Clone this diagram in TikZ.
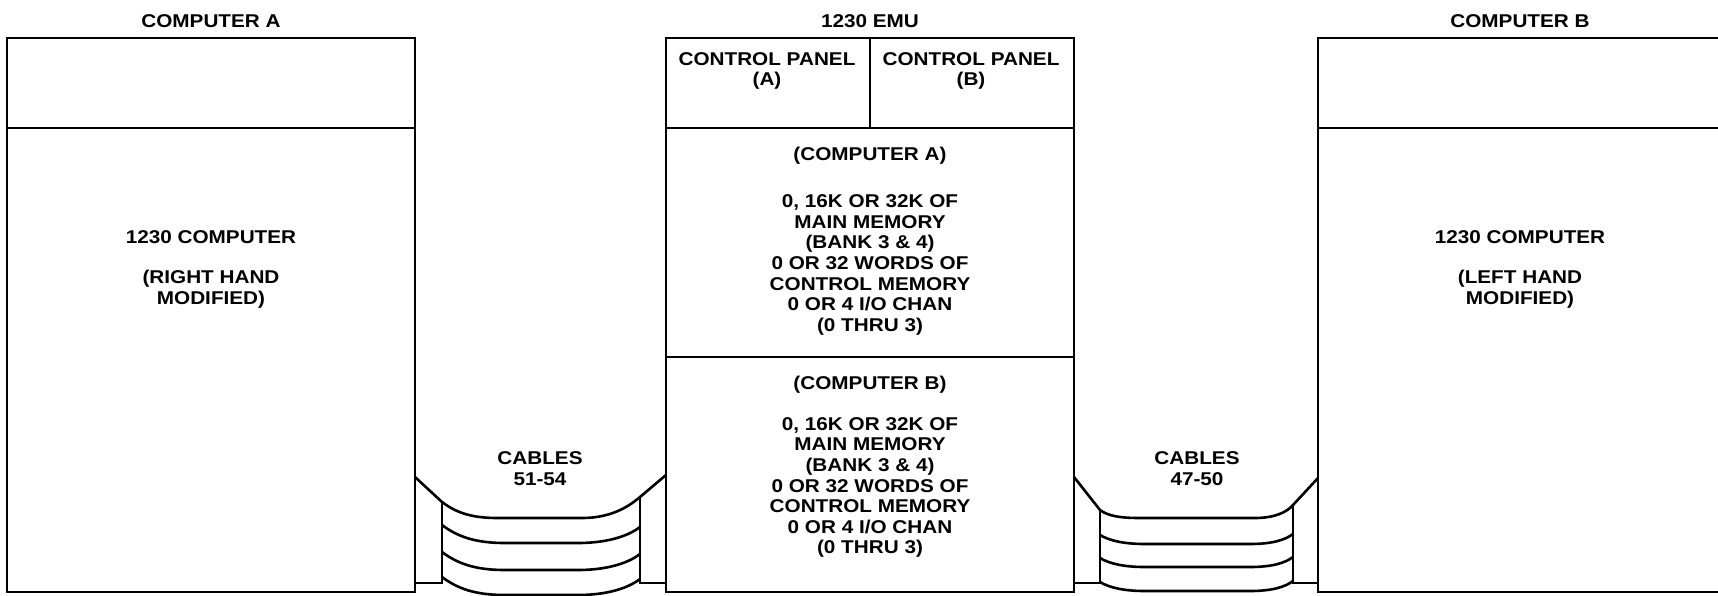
\documentclass[tikz,border=0pt]{standalone}
\usepackage{fontspec}
\newfontfamily\lbl{Liberation Sans}[FakeStretch=1.12]
\begin{document}
\begin{tikzpicture}[x=1pt,y=-1pt,line width=2.6pt,line join=miter,
  lab/.style={font=\lbl\bfseries\fontsize{18.5}{20.6}\selectfont,align=center,inner sep=0pt}]
\useasboundingbox (0,0) rectangle (1718,595);
% boxes
\draw (7,38) rectangle (415,592);
\draw (7,128) -- (415,128);
\draw (666,38) rectangle (1074,592);
\draw (666,128) -- (1074,128);
\draw (870,38) -- (870,128);
\draw (666,357) -- (1074,357);
\draw (1718,38) -- (1318,38) -- (1318,592) -- (1718,592);
\draw (1318,128) -- (1718,128);
% left cables
\draw (415,477) -- (442,502) .. controls (458,514) and (474,518) .. (498,518) -- (582,518) .. controls (608,518) and (626,509) .. (640,497) -- (666,475);
\draw (415,583) -- (442,583) -- (442,502);
\draw (666,583) -- (640,583) -- (640,497);
\foreach \y in {525,552,577}{
  \draw (442,\y) .. controls (458,\y+12) and (476,\y+18) .. (505,\y+18) -- (578,\y+18) .. controls (605,\y+18) and (627,\y+12) .. (640,\y+2);
}
% right cables
\draw (1074,477) -- (1100,510) .. controls (1108,516) and (1120,518) .. (1140,518) -- (1255,518) .. controls (1275,518) and (1287,512) .. (1293,505) -- (1318,478);
\draw (1074,583) -- (1100,583) -- (1100,510);
\draw (1318,583) -- (1293,583) -- (1293,505);
\foreach \y in {535,558,582}{
  \draw (1100,\y) .. controls (1110,\y+6) and (1125,\y+9) .. (1145,\y+9) -- (1250,\y+9) .. controls (1272,\y+9) and (1285,\y+5) .. (1293,\y-1);
}
% labels
\node[lab] (tA) at (211,21) {COMPUTER A};
\node[lab] (tE) at (870,21) {1230 EMU};
\node[lab] (tB) at (1520,21) {COMPUTER B};
\node[lab] (cA1) at (211,237) {1230 COMPUTER};
\node[lab] (cA2) at (211,289.5) {(RIGHT HAND\\MODIFIED)};
\node[lab] (cB1) at (1520,237) {1230 COMPUTER};
\node[lab] (cB2) at (1520,289.5) {(LEFT HAND\\MODIFIED)};
\node[lab] (pA) at (767,71) {CONTROL PANEL\\(A)};
\node[lab] (pB) at (971,71) {CONTROL PANEL\\(B)};
\node[lab] (eA1) at (870,156) {(COMPUTER A)};
\node[lab] (eA2) at (870,265) {0, 16K OR 32K OF\\MAIN MEMORY\\(BANK 3 \& 4)\\0 OR 32 WORDS OF\\CONTROL MEMORY\\0 OR 4 I/O CHAN\\(0 THRU 3)};
\node[lab] (eB1) at (870,385) {(COMPUTER B)};
\node[lab] (eB2) at (870,487.5) {0, 16K OR 32K OF\\MAIN MEMORY\\(BANK 3 \& 4)\\0 OR 32 WORDS OF\\CONTROL MEMORY\\0 OR 4 I/O CHAN\\(0 THRU 3)};
\node[lab] (kL) at (540,468.5) {CABLES\\51-54};
\node[lab] (kR) at (1197,468.5) {CABLES\\47-50};
\end{tikzpicture}
\end{document}
